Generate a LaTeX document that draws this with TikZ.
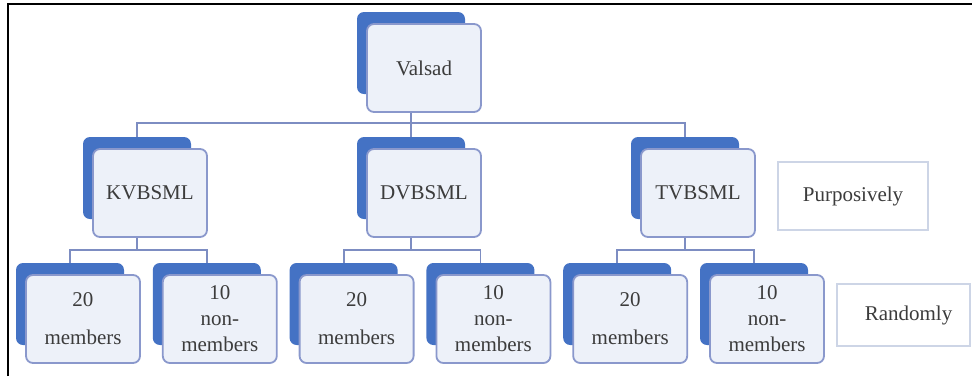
\documentclass[tikz,border=0pt]{standalone}
\usepackage{fontspec}
\setmainfont{Liberation Serif}
\usetikzlibrary{backgrounds}
\definecolor{bback}{HTML}{4472C4}
\definecolor{ffill}{HTML}{EDF1F9}
\definecolor{fborder}{HTML}{8A98CC}
\definecolor{lcol}{HTML}{7D8DC2}
\definecolor{txt}{HTML}{3C3C3C}
\definecolor{lbborder}{HTML}{CDD5E6}
\newcommand\twobox[4]{%
  \node[backbox] (#1b) at ({#2+54},{#3+41}) {};
  \node[frontbox] (#1) at ({#2+67},{#3+56}) {#4};}
\begin{document}
\begin{tikzpicture}[x=1pt,y=-1pt,
  backbox/.style={fill=bback, rounded corners=7pt, minimum width=108pt, minimum height=82pt, inner sep=0pt, draw=none},
  frontbox/.style={fill=ffill, draw=fborder, line width=1.8pt, rounded corners=7pt, minimum width=114pt, minimum height=88pt, inner sep=0pt, text=txt, font=\fontsize{21}{26}\selectfont, align=center},
  conn/.style={draw=lcol, line width=1.8pt},
  labelbox/.style={fill=white, draw=lbborder, line width=1.5pt, inner sep=0pt, text=txt, font=\fontsize{21}{26}\selectfont}]
\useasboundingbox (0,0) rectangle (972,376);
\draw[black, line width=2pt] (8,376) -- (8,4) -- (972,4);
\twobox{val}{357}{12}{Valsad}
\twobox{kv}{83}{137}{KVBSML}
\twobox{dv}{357}{137}{DVBSML}
\twobox{tv}{631}{137}{TVBSML}
\twobox{ka}{16}{263}{20\\[12pt]members}
\twobox{kn}{152.8}{263}{10\\non-\\members}
\twobox{da}{289.6}{263}{20\\[12pt]members}
\twobox{dn}{426.4}{263}{10\\non-\\members}
\twobox{ta}{563.2}{263}{20\\[12pt]members}
\twobox{tn}{700}{263}{10\\non-\\members}
\node[labelbox, minimum width=150pt, minimum height=68pt] (purp) at (853,196) {Purposively};
\node[labelbox, minimum width=133pt, minimum height=62pt] (rand) at (903.5,315) {\hspace{10pt}Randomly};
\coordinate (h1) at (0,123);
\coordinate (h2) at (0,250);
\begin{scope}[on background layer]
  \draw[conn] (valb.center |- val.south) -- (dvb.north);
  \draw[conn] (kvb.north) -- (kvb.north |- h1) -- (tvb.north |- h1) -- (tvb.north);
  \draw[conn] (kvb.center |- kv.south) -- (kvb.center |- h2);
  \draw[conn] (kab.north) -- (kab.north |- h2) -- (knb.north |- h2) -- (knb.north);
  \draw[conn] (dvb.center |- dv.south) -- (dvb.center |- h2);
  \draw[conn] (dab.north) -- (dab.north |- h2) -- (dnb.north |- h2) -- (dnb.north);
  \draw[conn] (tvb.center |- tv.south) -- (tvb.center |- h2);
  \draw[conn] (tab.north) -- (tab.north |- h2) -- (tnb.north |- h2) -- (tnb.north);
\end{scope}
\end{tikzpicture}
\end{document}
